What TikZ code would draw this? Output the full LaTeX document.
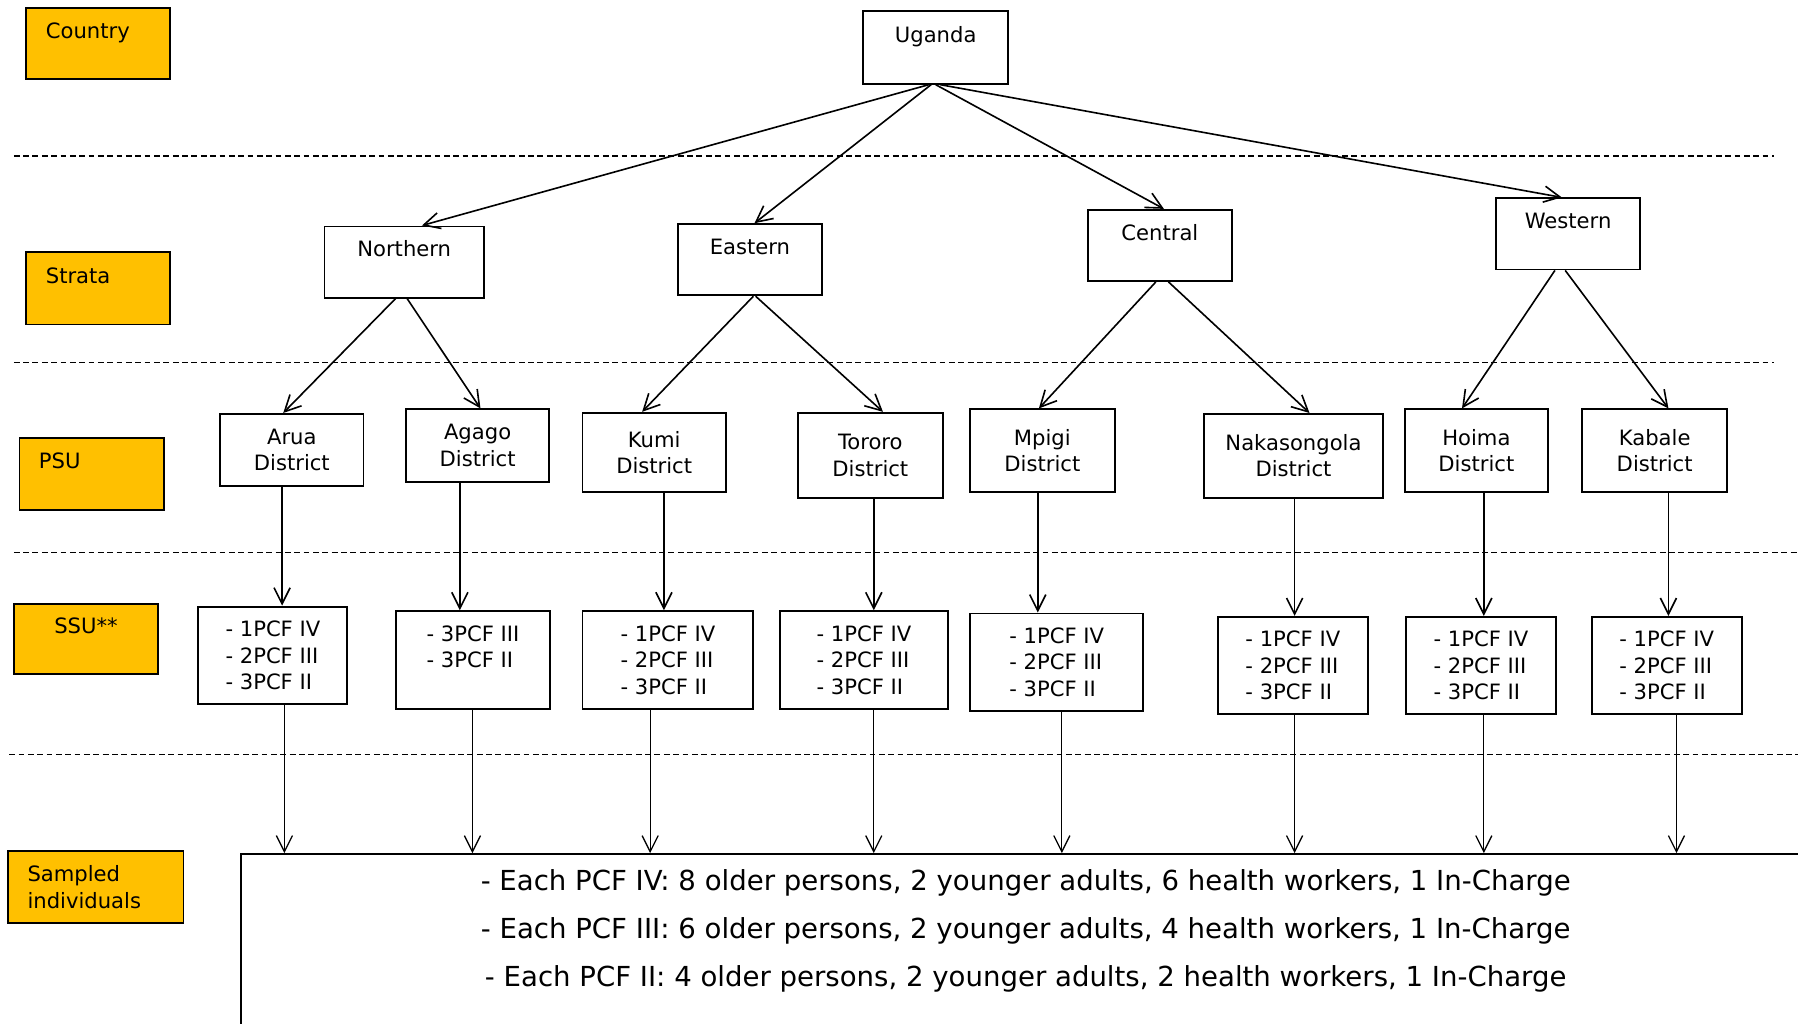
\documentclass[tikz,border=0pt]{standalone}
\usepackage{fontspec}
\setmainfont{DejaVu Sans}
\definecolor{lvlyellow}{RGB}{255,192,0}
\usetikzlibrary{arrows.meta,positioning}
\newcommand{\pxu}{0.025cm}
\newcommand{\pcfall}{- 1PCF IV\\- 2PCF III\\- 3PCF II}

\begin{document}
\begin{tikzpicture}[x=0.025cm,y=-0.025cm,
  font=\fontsize{13.1pt}{16.4pt}\selectfont,
  lvl/.style={draw,line width=1.2pt,fill=lvlyellow,align=left,inner xsep=17*\pxu,inner ysep=0pt},
  box/.style={draw,line width=1.2pt,fill=white,align=center,inner sep=0pt},
  ssubox/.style={box,align=left,minimum height=85*\pxu},
  arr/.style={line width=1pt,-{Straight Barb[length=10pt,width=10pt]}},
  sep/.style={dash pattern=on 3.6pt off 2.2pt,line width=0.8pt}]
  \useasboundingbox (0,0) rectangle (1568,893);
  \clip (0,0) rectangle (1568,893);
  % level separators
  \foreach \y/\a/\b in {136/12/1547, 316/12/1547, 482/12/1568, 658/8/1568}{
    \draw[sep] (\a,\y) -- (\b,\y);
  }
  % level labels
  \node[lvl,text width=2.275cm,minimum height=62*\pxu] (country) at (85.5,38) {Country\\~};
  \node[lvl,text width=2.275cm,minimum height=63*\pxu] (strata) at (85.5,251.5) {Strata\\~};
  \node[lvl,text width=2.3cm,minimum height=63*\pxu] (psu) at (80,413.5) {PSU\\~};
  \node[lvl,text width=2.3cm,minimum height=61*\pxu,align=center] (ssu) at (75,557.5) {SSU**\\~};
  \node[lvl,text width=2.975cm,minimum height=63*\pxu] (sampled) at (83.5,773.5) {Sampled\\individuals};
  % country and strata
  \node[box,minimum width=126*\pxu,minimum height=63*\pxu] (uganda) at (816,41.5) {Uganda\\~};
  \foreach \n/\t/\x/\y/\w in {northern/Northern/352.5/228.5/139, eastern/Eastern/654/226.5/126,
      central/Central/1011.5/214/125, western/Western/1367.5/204/125}{
    \node[box,minimum width=\w*\pxu,minimum height=62*\pxu] (\n) at (\x,\y) {\t\\~};
  }
  % PSU districts
  \foreach \n/\t/\x/\y/\w/\h in {arua/Arua/254.5/392.5/125/63, agago/Agago/416.5/388.5/125/63,
      kumi/Kumi/570.5/394.5/125/69, tororo/Tororo/759/397/126/74, mpigi/Mpigi/909/393/126/72,
      nakas/Nakasongola/1128/397.5/156/73, hoima/Hoima/1287.5/393/125/72, kabale/Kabale/1443/393/126/72}{
    \node[box,minimum width=\w*\pxu,minimum height=\h*\pxu] (\n) at (\x,\y) {\t\\District};
  }
  % SSU facilities
  \node[ssubox,minimum width=130*\pxu] (ssua) at (238,571.5) {\pcfall};
  \node[ssubox,minimum width=135*\pxu] (ssub) at (412.5,575.5) {- 3PCF III\\- 3PCF II\\~};
  \foreach \n/\x/\y/\w in {ssuc/582.5/575.5/149, ssud/753.5/575.5/147, ssue/921.5/577.5/151,
      ssuf/1127.5/580.5/131, ssug/1291.5/580.5/131, ssuh/1453.5/580.5/131}{
    \node[ssubox,minimum width=\w*\pxu] (\n) at (\x,\y) {\pcfall};
  }
  % sampled individuals
  \node[box,anchor=north west,minimum width=1400*\pxu,minimum height=200*\pxu] (sample) at (209,744) {};
  \node[font=\fontsize{17.1pt}{29.9pt}\selectfont,align=center] (sampletxt) at (894.5,812)
    {- Each PCF IV: 8 older persons, 2 younger adults, 6 health workers, 1 In-Charge\\
     - Each PCF III: 6 older persons, 2 younger adults, 4 health workers, 1 In-Charge\\
     - Each PCF II: 4 older persons, 2 younger adults, 2 health workers, 1 In-Charge};
  % arrows
  \foreach \n/\s/\e in {northern/810/368, eastern/812/658, central/816/1015, western/820/1362}{
    \draw[arr] (uganda.south -| \s,0) -- (\n.north -| \e,0);
  }
  \foreach \a/\s/\b/\e in {northern/345/arua/247, northern/355/agago/419, eastern/657/kumi/560,
      eastern/659/tororo/770, central/1008/mpigi/906, central/1019/nakas/1142,
      western/1356/hoima/1275, western/1365/kabale/1455}{
    \draw[arr] (\a.south -| \s,0) -- (\b.north -| \e,0);
  }
  \foreach \a/\b/\x in {arua/ssua/246, agago/ssub/401, kumi/ssuc/579, tororo/ssud/762,
      mpigi/ssue/905, nakas/ssuf/1129, hoima/ssug/1294, kabale/ssuh/1455}{
    \draw[arr] (\a.south -| \x,0) -- (\b.north -| \x,0);
  }
  \foreach \b/\x in {ssua/248, ssub/412, ssuc/567, ssud/762, ssue/926, ssuf/1129, ssug/1294, ssuh/1462}{
    \draw[arr,line width=0.8pt] (\b.south -| \x,0) -- (sample.north -| \x,0);
  }
\end{tikzpicture}
\end{document}
